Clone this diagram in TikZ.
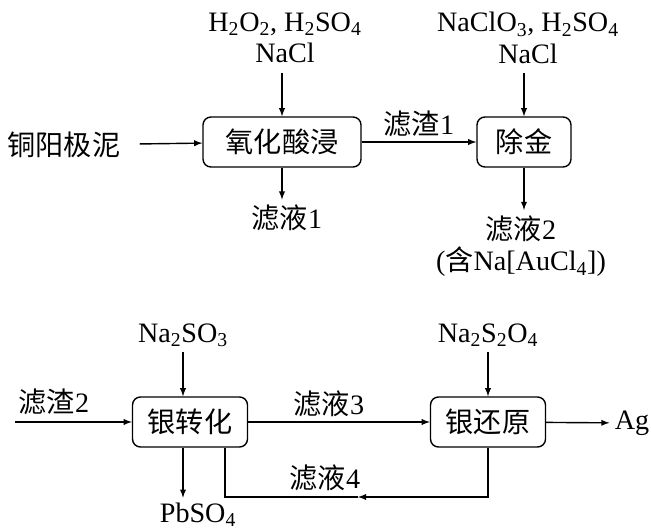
\documentclass[tikz,border=0pt]{standalone}
\usepackage{fontspec}
\setmainfont{Liberation Serif}
\newfontfamily\cjk{Noto Sans CJK SC}
\usetikzlibrary{positioning,arrows}

\newcommand{\zh}[1]{{\cjk #1}}

\begin{document}
\begin{tikzpicture}[
	x=0.025cm, y=-0.025cm,
	line width=1pt,
	every node/.style={font=\fontsize{20}{22.5}\selectfont},
	proc/.style={draw, rounded corners=0.2cm, minimum height=1.25cm, inner sep=0pt},
	flow/.style={-latex}
]
\useasboundingbox (0,0) rectangle (651,532);

%% Upper line: leaching and gold removal
\node (ore) at (64,145) {\zh{铜阳极泥}};
\node[proc, minimum width=3.95cm] (leach) at (282,142) {\zh{氧化酸浸}};
\node[proc, minimum width=2.35cm] (gold) at (524,142) {\zh{除金}};
\node[align=center] (r1) at (285,38) {H\textsubscript{2}O\textsubscript{2}, H\textsubscript{2}SO\textsubscript{4}\\NaCl};
\node[align=center] (r2) at (528,38) {NaClO\textsubscript{3}, H\textsubscript{2}SO\textsubscript{4}\\NaCl};
\node (f1) at (287,218) {\zh{滤液}1};
\node[align=center] (f2) at (521,246) {\zh{滤液}2\\(\zh{含}Na[AuCl\textsubscript{4}])};

\draw[flow, shorten <=0.35cm] (ore) -- (leach);
\draw[flow, shorten <=0.1cm] (r1.south -| leach) -- (leach);
\draw[flow, shorten <=0.1cm] (r2.south -| gold) -- (gold);
\draw[flow] (leach) -- node[above] (s1) {\zh{滤渣}1} (gold);
\draw[flow] (leach.south) -- (leach.south |- f1.north);
\draw[flow] (gold.south) -- (gold.south |- f2.north);

%% Lower line: silver conversion and reduction
\coordinate (in2) at (15,422);
\node (s2) at (54,402) {\zh{滤渣}2};
\node[proc, minimum width=2.875cm] (conv) at (190,422) {\zh{银转化}};
\node[proc, minimum width=2.875cm] (red) at (488,422) {\zh{银还原}};
\node (r3) at (183,335) {Na\textsubscript{2}SO\textsubscript{3}};
\node (r4) at (488,335) {Na\textsubscript{2}S\textsubscript{2}O\textsubscript{4}};
\node (pb) at (198,515) {PbSO\textsubscript{4}};
\node (ag) at (632,423) {Ag};

\draw[flow] (in2) -- (conv);
\draw[flow] (r3.south) -- (r3.south |- conv.north);
\draw[flow] (r4) -- (red);
\draw[flow] (conv) -- node[above, xshift=-0.25cm] (f3) {\zh{滤液}3} (red);
\draw[flow] (red) -- (ag);
\draw[flow] (conv.south -| r3) -- (r3 |- pb.north);

% recycle of filtrate 4
\coordinate (c4) at (225,497);
\coordinate (m4) at (358,497);
\node (f4) at (325,478) {\zh{滤液}4};
\draw[flow] (red.south) |- (m4);
\draw (m4) -- (c4) -- (c4 |- conv.south);

\end{tikzpicture}
\end{document}
